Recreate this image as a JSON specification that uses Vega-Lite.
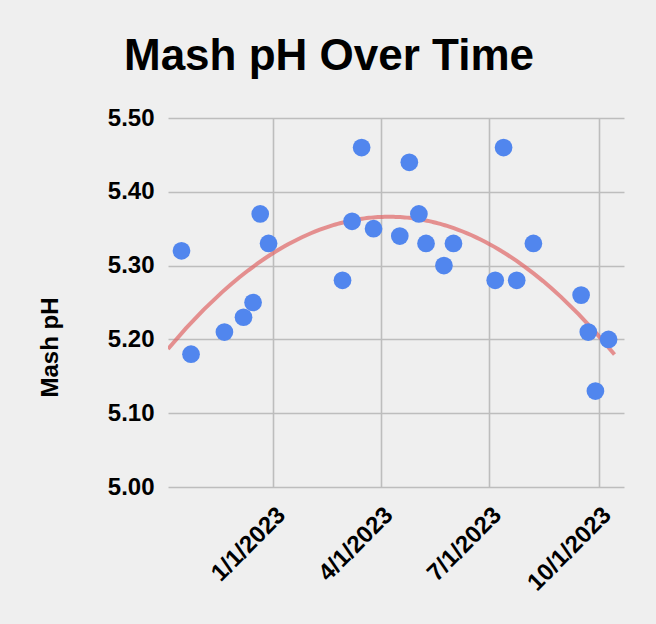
{
  "$schema": "https://vega.github.io/schema/vega-lite/v6.json",
  "width": 456,
  "height": 369,
  "autosize": "none",
  "padding": {"left": 168, "top": 118, "right": 32, "bottom": 137},
  "background": "#efefef",
  "title": {
    "text": "Mash pH Over Time",
    "font": "Liberation Sans",
    "fontSize": 44,
    "fontWeight": "bold",
    "color": "#000000",
    "anchor": "middle",
    "dx": -67,
    "dy": 44,
    "baseline": "alphabetic",
    "offset": 36
  },
  "config": {
    "view": {"stroke": null},
    "axis": {
      "labelFont": "Liberation Sans",
      "labelFontSize": 24,
      "labelFontWeight": "bold",
      "labelColor": "#000000",
      "titleFont": "Liberation Sans",
      "titleFontSize": 24,
      "titleFontWeight": "bold",
      "titleColor": "#000000",
      "gridColor": "#bdbdbd",
      "gridWidth": 1.6,
      "gridOpacity": 1,
      "domain": false,
      "ticks": false,
      "tickSize": 0
    }
  },
  "data": {
    "values": [
      {"date": "2022-10-16", "ph": 5.32},
      {"date": "2022-10-24", "ph": 5.18},
      {"date": "2022-11-21", "ph": 5.21},
      {"date": "2022-12-07", "ph": 5.23},
      {"date": "2022-12-15", "ph": 5.25},
      {"date": "2022-12-21", "ph": 5.37},
      {"date": "2022-12-28", "ph": 5.33},
      {"date": "2023-02-28", "ph": 5.28},
      {"date": "2023-03-08", "ph": 5.36},
      {"date": "2023-03-16", "ph": 5.46},
      {"date": "2023-03-26", "ph": 5.35},
      {"date": "2023-04-17", "ph": 5.34},
      {"date": "2023-04-25", "ph": 5.44},
      {"date": "2023-05-03", "ph": 5.37},
      {"date": "2023-05-09", "ph": 5.33},
      {"date": "2023-05-24", "ph": 5.30},
      {"date": "2023-06-01", "ph": 5.33},
      {"date": "2023-07-06", "ph": 5.28},
      {"date": "2023-07-13", "ph": 5.46},
      {"date": "2023-07-24", "ph": 5.28},
      {"date": "2023-08-07", "ph": 5.33},
      {"date": "2023-09-16", "ph": 5.26},
      {"date": "2023-09-22", "ph": 5.21},
      {"date": "2023-09-28", "ph": 5.13},
      {"date": "2023-10-09", "ph": 5.20}
    ],
    "format": {"parse": {"date": "date"}}
  },
  "encoding": {
    "x": {
      "field": "date",
      "type": "temporal",
      "scale": {"type": "utc", "domain": [1664902080000, 1697928480000], "nice": false},
      "axis": {
        "title": null,
        "values": [1672531200000, 1680307200000, 1688169600000, 1696118400000],
        "labelExpr": "utcFormat(datum.value, '%-m/%-d/%Y')",
        "labelAngle": -45,
        "labelAlign": "right",
        "labelBaseline": "middle",
        "labelPadding": 24,
        "labelOffset": 8,
        "grid": true
      }
    },
    "y": {
      "field": "ph",
      "type": "quantitative",
      "scale": {"domain": [5.0, 5.5], "nice": false, "zero": false},
      "axis": {
        "title": "Mash pH",
        "values": [5.0, 5.1, 5.2, 5.3, 5.4, 5.5],
        "format": ".2f",
        "labelPadding": 14,
        "titleX": -118,
        "titleY": 229,
        "titleAngle": -90,
        "titleAlign": "center",
        "titleBaseline": "middle",
        "grid": true
      }
    }
  },
  "layer": [
    {
      "transform": [
        {"regression": "ph", "on": "date", "method": "poly", "order": 2, "extent": [1664902080000, 1697241600000]}
      ],
      "mark": {"type": "line", "color": "#e06666", "opacity": 0.7, "strokeWidth": 4, "clip": true}
    },
    {
      "mark": {"type": "circle", "size": 314, "color": "#5186ee", "opacity": 1}
    }
  ]
}
